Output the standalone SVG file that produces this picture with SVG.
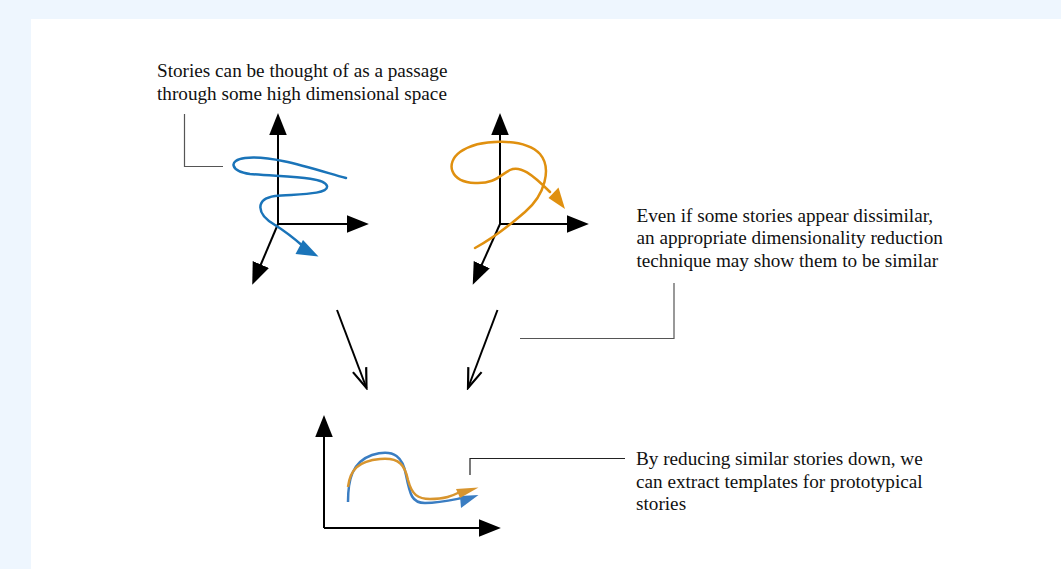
<svg xmlns="http://www.w3.org/2000/svg" width="1061" height="569" viewBox="0 0 1061 569">
<style>
.axis{stroke:#000;stroke-width:2;fill:none;marker-end:url(#axhead)}
.flow{stroke:#000;stroke-width:2;fill:none;marker-end:url(#openhead)}
.call{stroke:#555;stroke-width:1.2;fill:none}
.blue{stroke:#1a74b9;stroke-width:2.5;fill:none;stroke-linecap:round}
.orange{stroke:#e0900f;stroke-width:2.5;fill:none;stroke-linecap:round}
.blue2{stroke:#3a7dc2;stroke-width:2.5;fill:none}
.orange2{stroke:#d8952e;stroke-width:2.5;fill:none}
.lbl{font-family:"Liberation Serif","Times New Roman",serif;font-size:19.2px;fill:#111}
</style>
<defs>
<marker id="axhead" markerUnits="userSpaceOnUse" markerWidth="22" markerHeight="18" viewBox="0 0 20 16" refX="1" refY="8" orient="auto">
<path d="M0,0 L20,8 L0,16 Z" fill="#000"/>
</marker>
<marker id="openhead" markerUnits="userSpaceOnUse" markerWidth="24" markerHeight="20" viewBox="-2 -2 22 17" refX="18" refY="6.5" orient="auto">
<path d="M0,0 L18,6.5 L0,13" fill="none" stroke="#000" stroke-width="2"/>
</marker>
</defs>
<rect x="0" y="0" width="1061" height="569" fill="#eef6fe"/>
<rect x="31" y="19" width="1030" height="550" fill="#fff"/>

<g id="space-left">
<line class="axis" x1="278" y1="224" x2="278" y2="134"/>
<line class="axis" x1="278" y1="224" x2="348" y2="224"/>
<line class="axis" x1="278" y1="224" x2="260.4" y2="265.5"/>
<path class="blue" d="M346,178 C310,168 272,155 245,158 C228,160 230,171 250,174 C280,177 325,176 327,186 C329,195 295,194 275,196 C255,199 256,214 275,225 C288,233 296,240 304,247"/>
<polygon points="303,240 295.5,254 318.5,256.5" fill="#1a74b9"/>
</g>

<g id="space-right">
<line class="axis" x1="500" y1="224" x2="500" y2="134"/>
<line class="axis" x1="500" y1="224" x2="568" y2="224"/>
<line class="axis" x1="500" y1="224" x2="481.3" y2="265.7"/>
<path class="orange" d="M475,248 C490,240 510,225 525,212 C545,195 552,168 540,154 C525,138 480,138 460,152 C445,163 450,182 475,183 C495,184 500,175 510,170 C520,165 532,174 550,192"/>
<polygon points="548.5,198 558.5,187.5 565,209" fill="#e0900f"/>
</g>

<g id="space-reduced">
<line class="axis" x1="324" y1="528" x2="324" y2="436"/>
<line class="axis" x1="324" y1="528" x2="480" y2="528"/>
<path class="blue2" d="M348,502 C348,480 352,462 372,455 C395,448 403,458 406,475 C410,495 412,503 425,503 C440,503 452,500 462,498"/>
<polygon points="460,496 461,508 478.5,495" fill="#3a7dc2"/>
<path class="orange2" d="M348,487 C350,470 358,461 380,459 C400,457 405,466 408,480 C412,495 418,499 430,499 C445,499 452,496 460,492"/>
<polygon points="456,489 478.5,487.5 460,498" fill="#d8952e"/>
</g>

<g id="label-passage">
<text class="lbl" x="157" y="77">Stories can be thought of as a passage</text>
<text class="lbl" x="157" y="99.5">through some high dimensional space</text>
</g>
<g id="label-dissimilar">
<text class="lbl" x="636.5" y="221.5">Even if some stories appear dissimilar,</text>
<text class="lbl" x="636.5" y="244">an appropriate dimensionality reduction</text>
<text class="lbl" x="636.5" y="266.5">technique may show them to be similar</text>
</g>
<g id="label-templates">
<text class="lbl" x="636" y="465">By reducing similar stories down, we</text>
<text class="lbl" x="636" y="487.5">can extract templates for prototypical</text>
<text class="lbl" x="636" y="510">stories</text>
</g>

<g id="connectors">
<path class="call" d="M184.5,114 V166.5 H223"/>
<path class="call" d="M520,338.5 H674 V283"/>
<path class="call" d="M470,475 V458.5 H625" style="stroke:#222"/>
<line class="flow" x1="337" y1="310" x2="366.5" y2="388"/>
<line class="flow" x1="497.5" y1="310" x2="468" y2="388"/>
</g>
</svg>
